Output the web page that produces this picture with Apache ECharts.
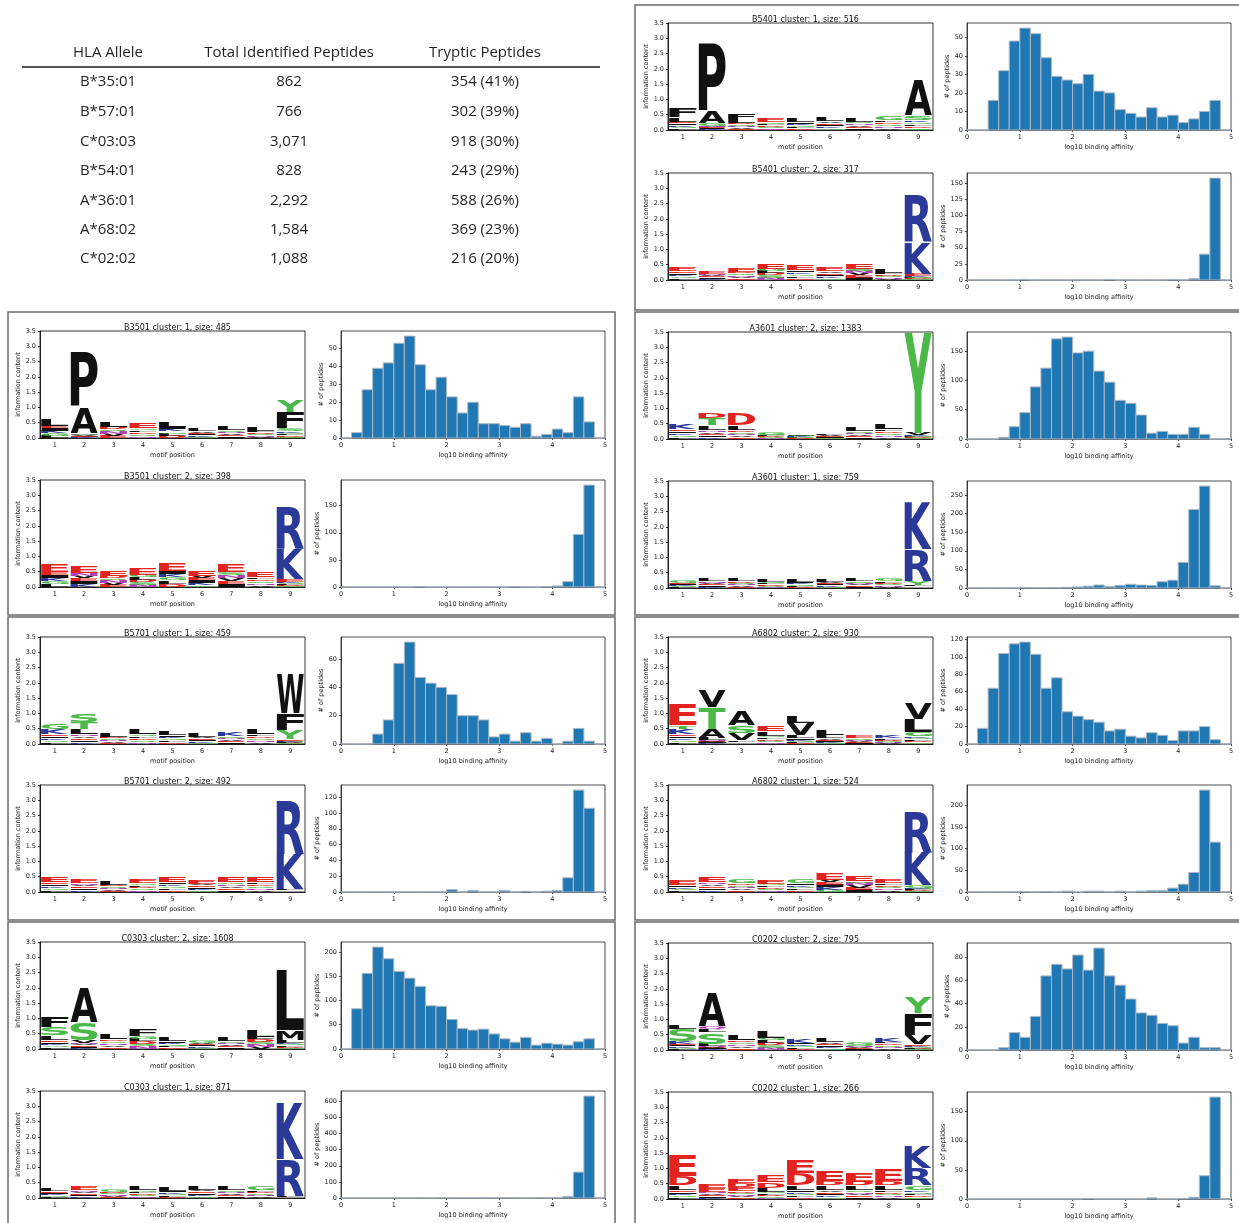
<!DOCTYPE html>
<html>
<head>
<meta charset="utf-8">
<title>HLA motifs</title>
<script src="https://cdn.jsdelivr.net/npm/echarts@6/dist/echarts.min.js"></script>
<style>
html,body{margin:0;padding:0;background:#fff;}
#main{width:1239px;height:1223px;}
</style>
</head>
<body>
<div id="main"></div>
<script>
'use strict';
// ---- table ----
var tableHeader = ['HLA Allele', 'Total Identified Peptides', 'Tryptic Peptides'];
var alleles = ['B*35:01', 'B*57:01', 'C*03:03', 'B*54:01', 'A*36:01', 'A*68:02', 'C*02:02'];
var totalPeptides = ['862', '766', '3,071', '828', '2,292', '1,584', '1,088'];
var trypticPeptides = ['354 (41%)', '302 (39%)', '918 (30%)', '243 (29%)', '588 (26%)', '369 (23%)', '216 (20%)'];

// ---- axes ----
var motifPositions = ['1', '2', '3', '4', '5', '6', '7', '8', '9'];
var binStarts = [0, 0.2, 0.4, 0.6, 0.8, 1.0, 1.2, 1.4, 1.6, 1.8, 2.0, 2.2, 2.4, 2.6, 2.8, 3.0, 3.2, 3.4, 3.6, 3.8, 4.0, 4.2, 4.4, 4.6, 4.8];
var binWidth = 0.2;

// ---- histograms (# of peptides per 0.2 log10 bin) ----
var histB5401c1 = [0,0,16,32,48,55,52,39,29,27,25,30,21,20,11,9,7,12,7,8,4,6,10,16,0];
var histB5401c2 = [0,0,0,0,0,1,0,0,0,0,0,0,0,1,0,0,0,0,0,1,0,2,40,158,0];
var histB3501c1 = [0,3,27,39,42,53,57,41,27,34,23,14,20,8,8,7,6,8,1,2,5,3,23,9,0];
var histB3501c2 = [0,0,0,0,0,0,0,1,0,0,0,0,0,0,0,0,1,0,0,1,2,10,97,188,0];
var histA3601c2 = [0,0,0,3,21,45,89,121,171,174,147,150,116,97,66,61,41,10,13,8,8,20,8,0,0];
var histA3601c1 = [0,0,0,0,0,1,1,1,1,2,3,5,8,4,7,10,8,7,17,21,69,211,274,6,0];
var histB5701c1 = [0,0,0,7,17,57,72,47,43,40,35,20,20,17,5,7,2,8,2,4,0,2,11,2,0];
var histB5701c2 = [0,0,0,0,0,0,0,0,0,0,3,0,2,0,0,2,0,1,0,1,2,18,129,106,0];
var histA6802c2 = [0,18,64,104,115,117,103,64,76,37,32,28,25,15,17,9,7,13,10,4,15,15,20,5,0];
var histA6802c1 = [0,0,0,0,0,1,0,1,0,2,0,2,2,0,2,0,2,3,3,9,18,45,235,115,0];
var histC0303c2 = [0,83,156,210,186,160,146,129,89,88,61,42,39,41,31,21,14,24,8,12,10,8,15,21,0];
var histC0303c1 = [0,0,0,0,0,0,0,1,0,1,1,1,1,1,1,2,1,0,1,1,2,10,161,633,0];
var histC0202c2 = [0,0,0,2,15,11,29,64,74,70,82,69,88,64,56,44,32,30,23,21,6,11,2,2,0];
var histC0202c1 = [0,0,0,0,0,0,0,0,0,0,0,1,0,0,0,0,0,2,0,0,1,3,40,175,0];

// ---- sequence logos: background height per position, its top letter, and the tall letters stacked above ----
var bgB5401c1 = [0.42,0.22,0.35,0.40,0.40,0.45,0.42,0.48,0.48];
var topB5401c1 = 'LGLELLLGS';
var lettersB5401c1 = [[1,'F',0.33],[2,'A',0.42],[2,'P',2.2],[3,'F',0.2],[9,'A',1.2]];

var bgB5401c2 = [0.45,0.32,0.42,0.57,0.52,0.45,0.57,0.37,0.2];
var topB5401c2 = 'EEEEEEELE';
var lettersB5401c2 = [[9,'K',1.05],[9,'R',1.55]];

var bgB3501c1 = [0.62,0.16,0.55,0.5,0.55,0.33,0.4,0.35,0.33];
var topB3501c1 = 'LGLELLLLS';
var lettersB3501c1 = [[2,'A',0.86],[2,'P',1.8],[9,'F',0.52],[9,'Y',0.4]];

var bgB3501c2 = [0.78,0.72,0.55,0.62,0.83,0.55,0.75,0.5,0.25];
var topB3501c2 = 'EEEEEEEEE';
var lettersB3501c2 = [[9,'K',1.0],[9,'R',1.4]];

var bgA3601c2 = [0.48,0.45,0.45,0.22,0.16,0.18,0.38,0.5,0.2];
var topA3601c2 = 'KLLGGLLLV';
var lettersA3601c2 = [[2,'T',0.25],[2,'D',0.2],[3,'D',0.42],[9,'Y',3.3]];

var bgA3601c1 = [0.25,0.33,0.33,0.3,0.3,0.32,0.33,0.33,0.1];
var topA3601c1 = 'GLLLLLLGL';
var lettersA3601c1 = [[9,'Y',0.12],[9,'R',1.05],[9,'K',1.55]];

var bgB5701c1 = [0.5,0.5,0.37,0.52,0.47,0.35,0.4,0.52,0.15];
var topB5701c1 = 'KLLLLLKLE';
var lettersB5701c1 = [[1,'G',0.2],[2,'T',0.22],[2,'S',0.28],[9,'Y',0.3],[9,'F',0.55],[9,'W',1.28]];

var bgB5701c2 = [0.5,0.47,0.35,0.45,0.5,0.42,0.5,0.5,0.1];
var topB5701c2 = 'EELEEEEEL';
var lettersB5701c2 = [[9,'K',1.15],[9,'R',1.75]];

var bgA6802c2 = [0.5,0.2,0.12,0.42,0.28,0.28,0.28,0.28,0.38];
var topA6802c2 = 'KLLLLLEKG';
var lettersA6802c2 = [[1,'T',0.12],[1,'E',0.68],[2,'A',0.3],[2,'T',0.7],[2,'V',0.58],[3,'V',0.25],[3,'S',0.25],[3,'A',0.5],[4,'E',0.2],[5,'V',0.42],[5,'L',0.22],[6,'L',0.2],[9,'L',0.45],[9,'V',0.55]];

var bgA6802c1 = [0.42,0.5,0.45,0.42,0.45,0.6,0.55,0.45,0.22];
var topA6802c1 = 'EEGEGEEEG';
var lettersA6802c1 = [[9,'K',1.08],[9,'R',1.35]];

var bgC0303c2 = [0.45,0.3,0.48,0.65,0.38,0.32,0.38,0.6,0.3];
var topC0303c2 = 'LVLFLGLLL';
var lettersC0303c2 = [[1,'S',0.28],[1,'F',0.35],[2,'S',0.58],[2,'A',1.12],[9,'M',0.32],[9,'L',1.98]];

var bgC0303c1 = [0.33,0.38,0.3,0.38,0.35,0.42,0.38,0.4,0.06];
var topC0303c1 = 'LEGLLLLGL';
var lettersC0303c1 = [[9,'R',1.22],[9,'K',1.84]];

var bgC0202c2 = [0.3,0.2,0.48,0.62,0.35,0.4,0.27,0.42,0.18];
var topC0202c2 = 'KLLLKLGKE';
var lettersC0202c2 = [[1,'S',0.4],[1,'L',0.15],[2,'S',0.38],[2,'L',0.1],[2,'Q',0.1],[2,'A',1.1],[9,'V',0.3],[9,'F',0.72],[9,'Y',0.55]];

var bgC0202c1 = [0.45,0.35,0.38,0.35,0.45,0.45,0.45,0.45,0.45];
var topC0202c1 = 'LEELLLLLG';
var lettersC0202c1 = [[1,'D',0.3],[1,'E',0.68],[2,'E',0.12],[3,'D',0.15],[3,'E',0.15],[4,'D',0.2],[4,'E',0.25],[5,'D',0.4],[5,'E',0.45],[6,'D',0.15],[6,'E',0.35],[7,'D',0.12],[7,'E',0.3],[8,'D',0.15],[8,'E',0.4],[9,'R',0.58],[9,'K',0.75]];

// ---- panels: [title1, bg, top, letters, hist, tickStep] x 2 rows ----
var COL_L = {logo: 40, hist: 341, box: 8};
var COL_R = {logo: 668, hist: 967, box: 635};
var panels = [
  {col: COL_R, box: [5, 310], rows: [
    {top: 23, title: 'B5401 cluster: 1, size: 516', bg: bgB5401c1, bgTop: topB5401c1, letters: lettersB5401c1, hist: histB5401c1, step: 10},
    {top: 173, title: 'B5401 cluster: 2, size: 317', bg: bgB5401c2, bgTop: topB5401c2, letters: lettersB5401c2, hist: histB5401c2, step: 25}]},
  {col: COL_L, box: [312, 615], rows: [
    {top: 331, title: 'B3501 cluster: 1, size: 485', bg: bgB3501c1, bgTop: topB3501c1, letters: lettersB3501c1, hist: histB3501c1, step: 10},
    {top: 480, title: 'B3501 cluster: 2, size: 398', bg: bgB3501c2, bgTop: topB3501c2, letters: lettersB3501c2, hist: histB3501c2, step: 50}]},
  {col: COL_R, box: [312, 615], rows: [
    {top: 332, title: 'A3601 cluster: 2, size: 1383', bg: bgA3601c2, bgTop: topA3601c2, letters: lettersA3601c2, hist: histA3601c2, step: 50},
    {top: 481, title: 'A3601 cluster: 1, size: 759', bg: bgA3601c1, bgTop: topA3601c1, letters: lettersA3601c1, hist: histA3601c1, step: 50}]},
  {col: COL_L, box: [617, 920], rows: [
    {top: 637, title: 'B5701 cluster: 1, size: 459', bg: bgB5701c1, bgTop: topB5701c1, letters: lettersB5701c1, hist: histB5701c1, step: 20},
    {top: 785, title: 'B5701 cluster: 2, size: 492', bg: bgB5701c2, bgTop: topB5701c2, letters: lettersB5701c2, hist: histB5701c2, step: 20}]},
  {col: COL_R, box: [617, 920], rows: [
    {top: 637, title: 'A6802 cluster: 2, size: 930', bg: bgA6802c2, bgTop: topA6802c2, letters: lettersA6802c2, hist: histA6802c2, step: 20},
    {top: 785, title: 'A6802 cluster: 1, size: 524', bg: bgA6802c1, bgTop: topA6802c1, letters: lettersA6802c1, hist: histA6802c1, step: 50}]},
  {col: COL_L, box: [922, 1240], rows: [
    {top: 942, title: 'C0303 cluster: 2, size: 1608', bg: bgC0303c2, bgTop: topC0303c2, letters: lettersC0303c2, hist: histC0303c2, step: 50},
    {top: 1091, title: 'C0303 cluster: 1, size: 871', bg: bgC0303c1, bgTop: topC0303c1, letters: lettersC0303c1, hist: histC0303c1, step: 100}]},
  {col: COL_R, box: [922, 1240], rows: [
    {top: 943, title: 'C0202 cluster: 2, size: 795', bg: bgC0202c2, bgTop: topC0202c2, letters: lettersC0202c2, hist: histC0202c2, step: 20},
    {top: 1092, title: 'C0202 cluster: 1, size: 266', bg: bgC0202c1, bgTop: topC0202c1, letters: lettersC0202c1, hist: histC0202c1, step: 50}]}
];

var PLOT_W = 265, HIST_W = 264, PLOT_H = 107;
var FONT_AX = 'DejaVu Sans';
var LOGO_FONT = 'bold 100px "DejaVu Sans"';
var BG_FILL = 'LGKIEVNSD';
var BAR = '#1f77b4';

function aaColor(a){
  if ('GSTYC'.indexOf(a) >= 0) return '#4cb848';
  if ('NQ'.indexOf(a) >= 0) return '#b040b8';
  if ('KRH'.indexOf(a) >= 0) return '#2b3a98';
  if ('DE'.indexOf(a) >= 0) return '#e2231f';
  return '#111111';
}

// glyph bounds around a centre/middle anchor, same way zrender draws text
var metricCache = {};
var mctx = document.createElement('canvas').getContext('2d');
function glyph(letter){
  if (!metricCache[letter]) {
    mctx.font = LOGO_FONT;
    mctx.textAlign = 'center';
    mctx.textBaseline = 'middle';
    var m = mctx.measureText(letter);
    metricCache[letter] = {l: m.actualBoundingBoxLeft, r: m.actualBoundingBoxRight, a: m.actualBoundingBoxAscent, d: m.actualBoundingBoxDescent};
  }
  return metricCache[letter];
}

function buildLogo(bg, bgTop, letters){
  var items = [], chars = [];
  var tops = [];
  for (var p = 0; p < bg.length; p++) {
    var y = 0, stripe = bg[p] * 0.65 / 5;
    for (var k = 0; k < 5; k++) {
      items.push([p, y, y + stripe]);
      chars.push(BG_FILL.charAt((p * 2 + k) % BG_FILL.length));
      y += stripe;
    }
    items.push([p, y, bg[p]]);
    chars.push(bgTop.charAt(p));
    tops.push(bg[p]);
  }
  letters.forEach(function(m){
    var p = m[0] - 1;
    items.push([p, tops[p], tops[p] + m[2]]);
    chars.push(m[1]);
    tops[p] += m[2];
  });
  return {items: items, chars: chars};
}

function letterRenderer(chars){
  return function(params, api){
    var bot = api.coord([api.value(0), api.value(1)]);
    var top = api.coord([api.value(0), api.value(2)]);
    var w = api.size([1, 0])[0] * 0.92;
    var yTop = top[1], yBot = bot[1];
    var gap = Math.min(0.7, (yBot - yTop) * 0.15);
    yTop += gap;
    var h = yBot - yTop;
    if (h < 0.3) return null;
    var ch = chars[params.dataIndex];
    var g = glyph(ch);
    var sx = w / (g.l + g.r), sy = h / (g.a + g.d);
    return {
      type: 'text',
      x: bot[0] - w / 2 + g.l * sx,
      y: yTop + g.a * sy,
      scaleX: sx,
      scaleY: sy,
      style: {text: ch, font: LOGO_FONT, fill: aaColor(ch), align: 'center', verticalAlign: 'middle', textAlign: 'center', textVerticalAlign: 'middle'}
    };
  };
}

function renderBin(params, api){
  var a = api.coord([api.value(0), 0]);
  var b = api.coord([api.value(1), api.value(2)]);
  return {
    type: 'rect',
    shape: {x: a[0], y: b[1], width: b[0] - a[0], height: a[1] - b[1]},
    style: {fill: BAR, stroke: '#aeb9c4', lineWidth: 1}
  };
}

var axisText = {fontFamily: FONT_AX, fontSize: 6.5, color: '#222'};
var grids = [], xAxes = [], yAxes = [], series = [], titles = [], graphics = [];

panels.forEach(function(panel){
  var col = panel.col;
  graphics.push({type: 'rect', shape: {x: col.box, y: panel.box[0], width: (col === COL_L ? 607 : 610), height: panel.box[1] - panel.box[0]},
    style: {fill: 'none', stroke: '#6a6a6a', lineWidth: 1.5}, silent: true});
  panel.rows.forEach(function(row){
    // logo plot
    var gi = grids.length;
    grids.push({left: col.logo, top: row.top, width: PLOT_W, height: PLOT_H, show: true, borderColor: '#000', borderWidth: 0.8, backgroundColor: 'transparent'});
    xAxes.push({gridIndex: gi, type: 'category', data: motifPositions, boundaryGap: true,
      name: 'motif position', nameLocation: 'middle', nameGap: 14, nameTextStyle: axisText,
      axisLine: {lineStyle: {color: '#000', width: 0.8}},
      axisTick: {alignWithLabel: true, length: 2, lineStyle: {color: '#000', width: 0.8}},
      axisLabel: Object.assign({margin: 4}, axisText)});
    yAxes.push({gridIndex: gi, type: 'value', min: 0, max: 3.5, interval: 0.5,
      name: 'information content', nameLocation: 'middle', nameRotate: 90, nameGap: 16, nameTextStyle: axisText,
      axisLine: {show: true, lineStyle: {color: '#000', width: 0.8}},
      axisTick: {show: true, length: 2, lineStyle: {color: '#000', width: 0.8}},
      splitLine: {show: false},
      axisLabel: Object.assign({margin: 4, formatter: function(v){ return v.toFixed(1); }}, axisText)});
    var logo = buildLogo(row.bg, row.bgTop, row.letters);
    series.push({type: 'custom', xAxisIndex: gi, yAxisIndex: gi, silent: true, animation: false,
      renderItem: letterRenderer(logo.chars), data: logo.items});
    titles.push({text: row.title, left: col.logo + PLOT_W / 2, top: row.top - 12, textAlign: 'center',
      textStyle: {fontFamily: FONT_AX, fontSize: 8, fontWeight: 'normal', color: '#111'}});

    // histogram
    var hi = grids.length;
    var maxCount = Math.max.apply(null, row.hist);
    var ymax = maxCount * 1.05;
    var step = row.step;
    var digits = String(Math.floor(ymax / step) * step).length;
    grids.push({left: col.hist, top: row.top, width: HIST_W, height: PLOT_H, show: true, borderColor: '#222', borderWidth: 0.8, backgroundColor: 'transparent'});
    xAxes.push({gridIndex: hi, type: 'value', min: 0, max: 5, interval: 1,
      name: 'log10 binding affinity', nameLocation: 'middle', nameGap: 14, nameTextStyle: axisText,
      axisLine: {lineStyle: {color: '#222', width: 0.8}},
      axisTick: {show: true, length: 2, lineStyle: {color: '#222', width: 0.8}},
      splitLine: {show: false},
      axisLabel: Object.assign({margin: 4}, axisText)});
    yAxes.push({gridIndex: hi, type: 'value', min: 0, max: ymax, interval: step,
      name: '# of peptides', nameLocation: 'middle', nameRotate: 90, nameGap: 6 + digits * 3.8, nameTextStyle: axisText,
      axisLine: {show: true, lineStyle: {color: '#222', width: 0.8}},
      axisTick: {show: true, length: 2, lineStyle: {color: '#222', width: 0.8}},
      splitLine: {show: false},
      axisLabel: Object.assign({margin: 4, showMaxLabel: false, formatter: function(v){ return (Math.abs(v / step - Math.round(v / step)) < 1e-6) ? String(v) : ''; }}, axisText)});
    series.push({type: 'custom', xAxisIndex: hi, yAxisIndex: hi, silent: true, animation: false,
      renderItem: renderBin,
      data: binStarts.map(function(b, i){ return [b, b + binWidth, row.hist[i]]; })});
  });
});

// table graphics
var tableFont = '15px "Open Sans"';
var colX = [108, 289, 485];
var rowY = [82, 112, 142, 171, 201, 230, 259];
tableHeader.forEach(function(t, i){
  graphics.push({type: 'text', x: colX[i], y: 53, silent: true,
    style: {text: t, font: tableFont, fill: '#231f20', align: 'center', verticalAlign: 'middle', textAlign: 'center', textVerticalAlign: 'middle'}});
});
graphics.push({type: 'line', shape: {x1: 22, y1: 67, x2: 600, y2: 67}, style: {stroke: '#555', lineWidth: 2}, silent: true});
[alleles, totalPeptides, trypticPeptides].forEach(function(colVals, c){
  colVals.forEach(function(t, r){
    graphics.push({type: 'text', x: colX[c], y: rowY[r], silent: true,
      style: {text: t, font: tableFont, fill: '#231f20', align: 'center', verticalAlign: 'middle', textAlign: 'center', textVerticalAlign: 'middle'}});
  });
});

var myChart = echarts.init(document.getElementById('main'), null, {renderer: 'canvas'});
myChart.setOption({
  animation: false,
  backgroundColor: '#fff',
  title: titles,
  grid: grids,
  xAxis: xAxes,
  yAxis: yAxes,
  series: series,
  graphic: {elements: graphics}
});
</script>
</body>
</html>
